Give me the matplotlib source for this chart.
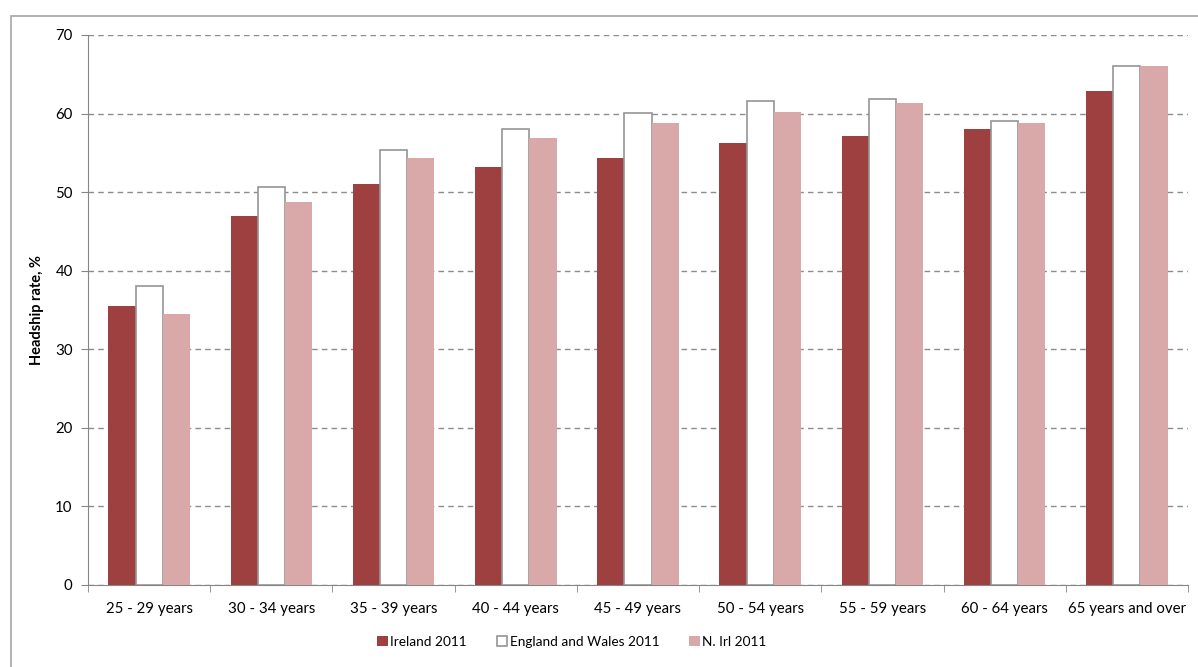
import matplotlib.pyplot as plt
import numpy as np
from matplotlib.patches import Rectangle

age_groups = ['25 - 29 years', '30 - 34 years', '35 - 39 years', '40 - 44 years', '45 - 49 years',
              '50 - 54 years', '55 - 59 years', '60 - 64 years', '65 years and over']
ireland = [35.5, 47.0, 51.0, 53.2, 54.3, 56.2, 57.2, 58.1, 62.9]
eng_wales = [38.1, 50.6, 55.4, 58.1, 60.1, 61.6, 61.9, 59.0, 66.0]
n_irl = [34.5, 48.7, 54.3, 56.9, 58.8, 60.2, 61.3, 58.8, 66.1]

plt.rcParams['font.family'] = ['Lato', 'DejaVu Sans']

fig = plt.figure(figsize=(11.98, 6.67), dpi=100)
ax = fig.add_axes([88 / 1198, 1 - 585 / 667, 1100 / 1198, 550 / 667])

# outer chart border
fig.patches.append(Rectangle((11 / 1198, -0.1), 1.2, 1.1 - 16 / 667, transform=fig.transFigure,
                             fill=False, edgecolor='#a6a6a6', linewidth=1.2))

x = np.arange(len(age_groups))
w = 1 / 4.5
ax.bar(x - w, ireland, w, color='#9e4040', label='Ireland 2011', zorder=3)
ax.bar(x, eng_wales, w, color='white', edgecolor='#959595', linewidth=1.2, label='England and Wales 2011', zorder=3)
ax.bar(x + w, n_irl, w, color='#d9a9aa', label='N. Irl 2011', zorder=3)

ax.set_xlim(-0.5, len(age_groups) - 0.5)
ax.set_ylim(0, 70)
ax.set_yticks(range(0, 71, 10))
ax.yaxis.grid(True, linestyle=(0, (4, 3)), color='#8c8c8c', linewidth=1)
ax.set_axisbelow(True)

ax.set_xticks(x)
ax.set_xticklabels(age_groups, fontsize=10.8)
ax.set_xticks(np.arange(-0.5, len(age_groups)), minor=True)
ax.tick_params(axis='x', which='major', length=0, pad=12)
ax.tick_params(axis='x', which='minor', length=5, color='#868686', direction='out')
ax.tick_params(axis='y', length=5, color='#868686', labelsize=10.8, pad=6)

for side in ['top', 'right']:
    ax.spines[side].set_visible(False)
for side in ['left', 'bottom']:
    ax.spines[side].set_color('#868686')

ax.set_ylabel('Headship rate, %', fontsize=10.5, fontweight='bold', labelpad=8)

fig.legend(loc='center', bbox_to_anchor=(572 / 1198, 1 - 642 / 667), ncol=3, frameon=False,
           fontsize=9.8, handlelength=0.75, handleheight=0.75, handletextpad=0.2, columnspacing=2.2)

fig.savefig('out.png', dpi=100)
